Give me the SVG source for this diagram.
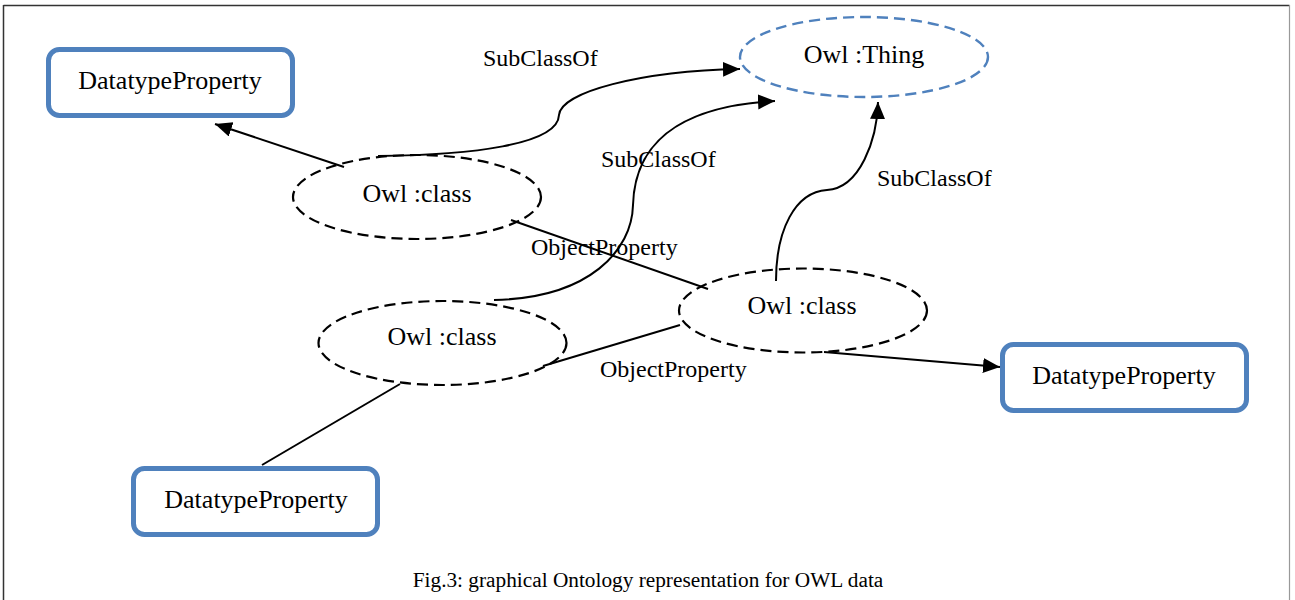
<svg xmlns="http://www.w3.org/2000/svg" width="1295" height="600" viewBox="0 0 1295 600">
<style>
.box{fill:#fff;stroke:#4f81bd;stroke-width:5}
.cls{fill:#fff;stroke:#000;stroke-width:2.2;stroke-dasharray:11 6}
.thing{fill:#fff;stroke:#4f81bd;stroke-width:2.4;stroke-dasharray:11 6}
.nt{font-family:"Liberation Serif","Times New Roman",serif;font-size:26px;fill:#000;text-anchor:middle}
.lt{font-family:"Liberation Serif","Times New Roman",serif;font-size:24px;fill:#000}
.cap{font-family:"Liberation Serif","Times New Roman",serif;font-size:21.3px;fill:#000;text-anchor:middle}
.edge{fill:none;stroke:#000;stroke-width:2}
</style>
<defs>
<marker id="arr" markerUnits="userSpaceOnUse" markerWidth="18" markerHeight="16" refX="17" refY="7.5" orient="auto">
<path d="M0,0 L17,7.5 L0,15 z" fill="#000"/>
</marker>
</defs>
<rect x="0" y="0" width="1295" height="600" fill="#fff"/>
<g id="frame">
<line x1="3.5" y1="5.5" x2="1289.5" y2="5.5" stroke="#333" stroke-width="1.5"/>
<line x1="3.5" y1="5" x2="3.5" y2="600" stroke="#333" stroke-width="1.5"/>
<line x1="1289.5" y1="5" x2="1289.5" y2="600" stroke="#999" stroke-width="1.2"/>
</g>
<g id="n-thing">
<ellipse class="thing" cx="864" cy="57" rx="124" ry="40"/>
<text class="nt" x="864" y="63">Owl :Thing</text>
</g>
<g id="n-class1">
<ellipse class="cls" cx="417" cy="197" rx="124" ry="42"/>
<text class="nt" x="417" y="202">Owl :class</text>
</g>
<g id="n-class2">
<ellipse class="cls" cx="442.5" cy="343" rx="124" ry="42"/>
<text class="nt" x="442" y="345">Owl :class</text>
</g>
<g id="n-class3">
<ellipse class="cls" cx="803" cy="310.5" rx="124" ry="42"/>
<text class="nt" x="802" y="314">Owl :class</text>
</g>
<g id="n-dp1">
<rect class="box" x="48.5" y="49.5" width="244" height="66" rx="11"/>
<text class="nt" x="170" y="89">DatatypeProperty</text>
</g>
<g id="n-dp2">
<rect class="box" x="1002.5" y="344.5" width="244" height="66" rx="11"/>
<text class="nt" x="1124" y="384">DatatypeProperty</text>
</g>
<g id="n-dp3">
<rect class="box" x="133.5" y="468.5" width="244" height="66" rx="11"/>
<text class="nt" x="256" y="508">DatatypeProperty</text>
</g>
<g id="connectors">
<path class="edge" d="M344,167 L215,124" marker-end="url(#arr)"/>
<path class="edge" d="M378,156 C470,155 558,145 559,115 C561,92 640,71 740,69" marker-end="url(#arr)"/>
<path class="edge" d="M494,300 C590,298 632,250 633,205 C635,130 700,105 775,101" marker-end="url(#arr)"/>
<path class="edge" d="M776,281 C776,230 795,192 827,190 C860,188 877,140 878,102" marker-end="url(#arr)"/>
<path class="edge" d="M511,220 L708,289"/>
<path class="edge" d="M543,366 L680,325"/>
<path class="edge" d="M824,352 L1000,367" marker-end="url(#arr)"/>
<path class="edge" d="M400,384 L262,465"/>
<text class="lt" x="483" y="66">SubClassOf</text>
<text class="lt" x="601" y="167">SubClassOf</text>
<text class="lt" x="877" y="186">SubClassOf</text>
<text class="lt" x="531" y="255">ObjectProperty</text>
<text class="lt" x="600" y="377">ObjectProperty</text>
</g>
<text class="cap" x="648" y="587">Fig.3: graphical Ontology representation for OWL data</text>
</svg>
